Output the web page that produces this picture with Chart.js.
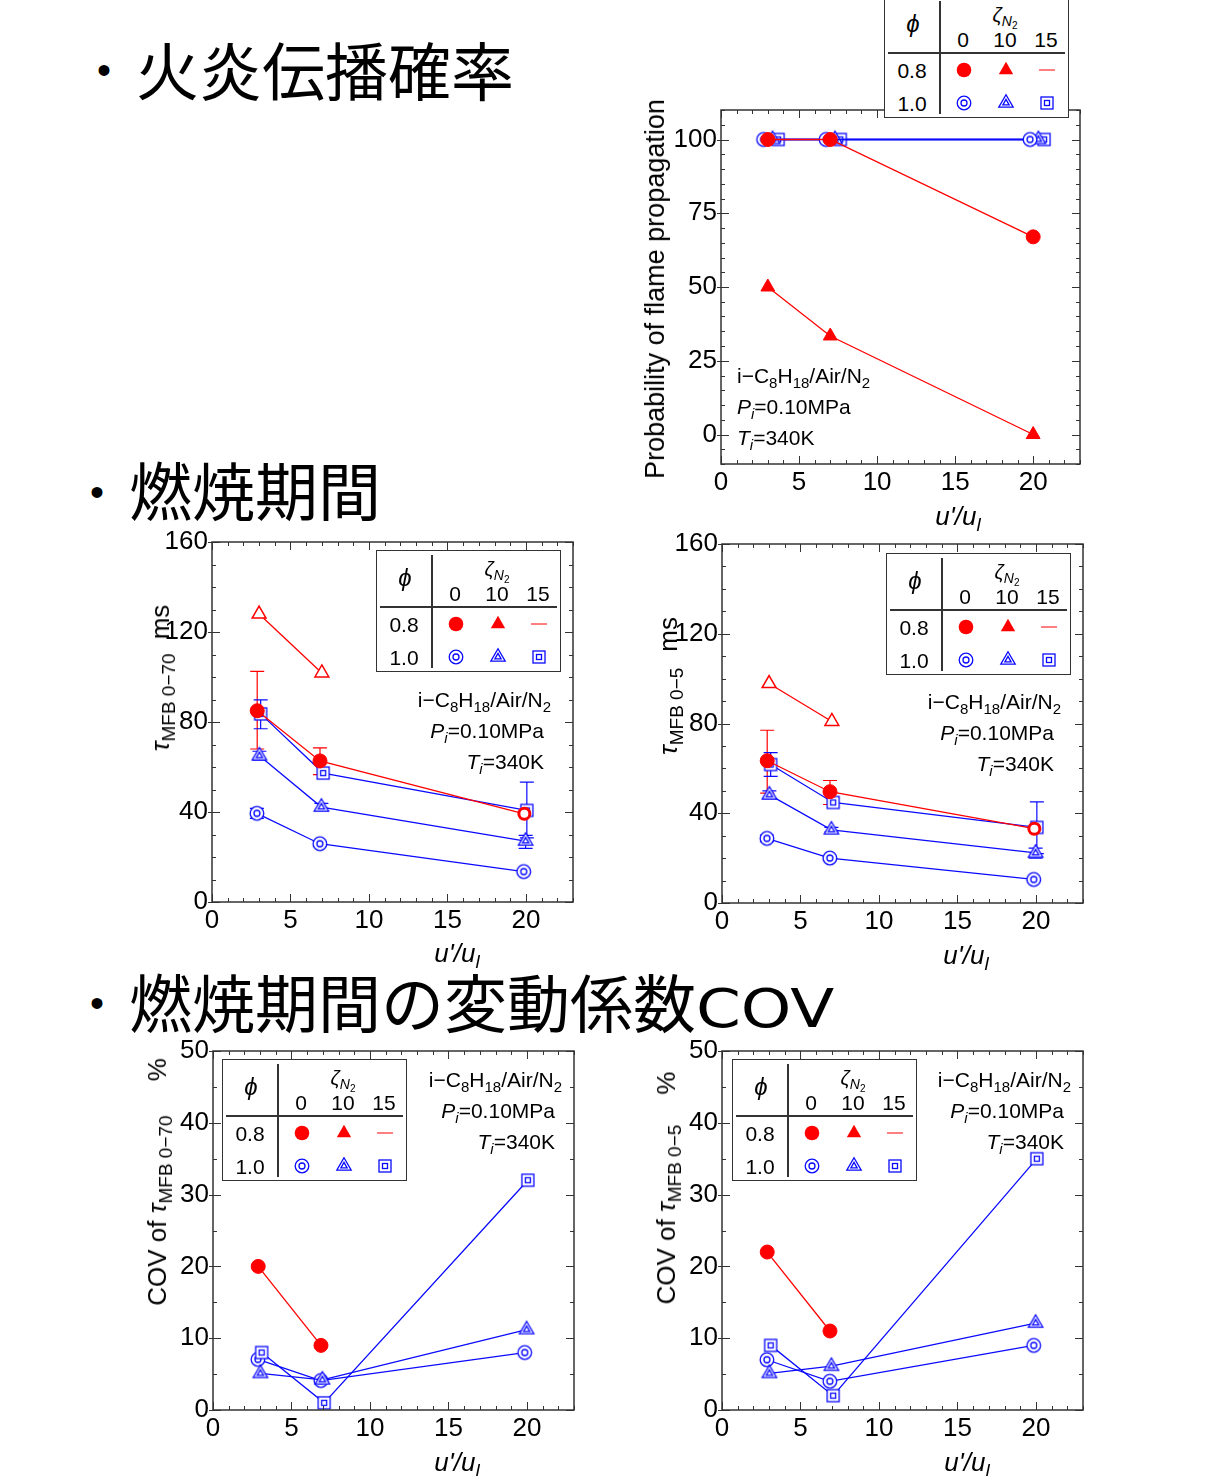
<!DOCTYPE html>
<html lang="ja">
<head>
<meta charset="utf-8">
<title>火炎伝播確率・燃焼期間・COV</title>
<script src="https://cdn.jsdelivr.net/npm/chart.js@4.4.1/dist/chart.umd.min.js"></script>
<style>
  html, body { margin: 0; padding: 0; background: #fff; }
  body { position: relative; width: 1209px; height: 1476px; overflow: hidden;
         font-family: "Liberation Sans", Arial, sans-serif; color: #000; }
  canvas.plot { position: absolute; }
  .head { position: absolute; font-family: "Noto Sans CJK JP", sans-serif; font-size: 63px;
          line-height: 63px; white-space: nowrap; }
  .head .lat { display: inline-block; font-family: "DejaVu Sans", sans-serif; font-size: 54px;
               transform: scaleX(1.19); transform-origin: left center; }
  .bullet { position: absolute; font-size: 40px; line-height: 40px; transform: translate(-50%, -50%); }
  .note { position: absolute; font-size: 21px; line-height: 31px; white-space: nowrap; }
  .note sub { font-size: 15px; vertical-align: -5px; line-height: 0; }
  .note.r { text-align: right; }
  .xt { position: absolute; font-size: 26px; font-style: italic; white-space: nowrap;
        transform: translate(-50%, -50%); }
  .xt sub { font-size: 19px; vertical-align: -6px; line-height: 0; }
  .yt { position: absolute; font-size: 26px; white-space: nowrap; line-height: 30px;
        transform: translate(-50%, -50%) rotate(-90deg); }
  .yt sub { font-size: 19px; vertical-align: -6px; line-height: 0; }
  .leg { position: absolute; width: 185px; height: 122px; border: 1.5px solid #333;
         background: #fff; box-sizing: border-box; z-index: 5; }
  .leg .vl { position: absolute; left: 54px; top: 4px; bottom: 3px; width: 1.5px; background: #333; }
  .leg .hl { position: absolute; left: 3px; right: 3px; top: 55px; height: 1.5px; background: #333; }
  .leg .c { position: absolute; transform: translate(-50%, -50%); font-size: 21px; line-height: 1;
            white-space: nowrap; }
  .leg .c sub { font-size: 14px; vertical-align: -4px; line-height: 0; }
  .leg .c sub sub { font-size: 10px; vertical-align: -3px; }
  .leg canvas { position: absolute; }
</style>
</head>
<body>

<div class="bullet" style="left:104px;top:70px">•</div>
<div class="head" style="left:136px;top:36px">火炎伝播確率</div>
<div class="bullet" style="left:97px;top:492px">•</div>
<div class="head" style="left:129px;top:456px">燃焼期間</div>
<div class="bullet" style="left:97px;top:1003px">•</div>
<div class="head" style="left:129px;top:968px">燃焼期間の変動係数<span class="lat">COV</span></div>

<canvas class="plot" id="probChart"></canvas>
<canvas class="plot" id="tau70Chart"></canvas>
<canvas class="plot" id="tau5Chart"></canvas>
<canvas class="plot" id="cov70Chart"></canvas>
<canvas class="plot" id="cov5Chart"></canvas>

<!-- axis titles -->
<div class="yt" style="left:655px;top:289px;font-size:27px">Probability of flame propagation</div>
<div class="xt" style="left:958px;top:516px">u'/u<sub>l</sub></div>

<div class="yt" style="left:160px;top:678px"><i>τ</i><sub>MFB 0−70</sub><span style="margin-left:14px">ms</span></div>
<div class="xt" style="left:457px;top:953px">u'/u<sub>l</sub></div>

<div class="yt" style="left:668px;top:686px"><i>τ</i><sub>MFB 0−5</sub><span style="margin-left:16px">ms</span></div>
<div class="xt" style="left:966px;top:955px">u'/u<sub>l</sub></div>

<div class="yt" style="left:157px;top:1182px">COV of <i>τ</i><sub>MFB 0−70</sub><span style="margin-left:34px">%</span></div>
<div class="xt" style="left:457px;top:1462px">u'/u<sub>l</sub></div>

<div class="yt" style="left:666px;top:1188px">COV of <i>τ</i><sub>MFB 0−5</sub><span style="margin-left:30px">%</span></div>
<div class="xt" style="left:967px;top:1462px">u'/u<sub>l</sub></div>

<!-- condition notes -->
<div class="note" style="left:737px;top:360px">
  <div>i−C<sub>8</sub>H<sub>18</sub>/Air/N<sub>2</sub></div>
  <div><i>P<sub>i</sub></i>=0.10MPa</div>
  <div><i>T<sub>i</sub></i>=340K</div>
</div>
<div class="note r" style="right:658px;top:684px">
  <div>i−C<sub>8</sub>H<sub>18</sub>/Air/N<sub>2</sub></div>
  <div style="padding-right:7px"><i>P<sub>i</sub></i>=0.10MPa</div>
  <div style="padding-right:7px"><i>T<sub>i</sub></i>=340K</div>
</div>
<div class="note r" style="right:148px;top:686px">
  <div>i−C<sub>8</sub>H<sub>18</sub>/Air/N<sub>2</sub></div>
  <div style="padding-right:7px"><i>P<sub>i</sub></i>=0.10MPa</div>
  <div style="padding-right:7px"><i>T<sub>i</sub></i>=340K</div>
</div>
<div class="note r" style="right:647px;top:1064px">
  <div>i−C<sub>8</sub>H<sub>18</sub>/Air/N<sub>2</sub></div>
  <div style="padding-right:7px"><i>P<sub>i</sub></i>=0.10MPa</div>
  <div style="padding-right:7px"><i>T<sub>i</sub></i>=340K</div>
</div>
<div class="note r" style="right:138px;top:1064px">
  <div>i−C<sub>8</sub>H<sub>18</sub>/Air/N<sub>2</sub></div>
  <div style="padding-right:7px"><i>P<sub>i</sub></i>=0.10MPa</div>
  <div style="padding-right:7px"><i>T<sub>i</sub></i>=340K</div>
</div>

<script>
// ---------------- data ----------------
const X_TICKS = [0, 5, 10, 15, 20];
const PHI_LEVELS = ['0.8', '1.0'];
const ZETA_LEVELS = ['0', '10', '15'];

// Probability of flame propagation (%)
const PROB_Y_TICKS = [0, 25, 50, 75, 100];
const PROB_RED_X = [3.0, 7.0, 20.0];
const PROB_RED_CIRCLE = [100, 100, 67];
const PROB_RED_TRI = [50, 33.4, 0];
const PROB_CIRC_X = [2.73, 6.73, 19.8];
const PROB_TRI_X = [3.3, 7.3, 20.33];
const PROB_SQ_X = [3.66, 7.64, 20.7];
const PROB_BLUE_CIRCLE = [100, 100, 100];
const PROB_BLUE_TRI = [100, 100, 100];
const PROB_BLUE_SQ = [100, 100, 100];

// x positions (u'/ul) for the duration / COV plots
const RED_X = [2.88, 6.88, 19.9];
const RED_TRI_X = [3.0, 7.0];
const CIRC_X = [2.86, 6.87, 19.86];
const TRI_X = [3.02, 6.97, 19.98];
const SQ_X = [3.1, 7.08, 20.06];

// tau MFB 0-70 (ms)
const TAU_Y_TICKS = [0, 40, 80, 120, 160];
const T70_RED = [85, 62.7, 39.2];
const T70_RED_LO = [68, 56.6, null];
const T70_RED_HI = [102.5, 68.5, null];
const T70_RED_TRI = [128, 101.8];
const T70_SQ = [83.6, 57.3, 40.7];
const T70_SQ_LO = [77, null, 28.5];
const T70_SQ_HI = [89.8, null, 53.3];
const T70_TRI = [65, 42.2, 27.1];
const T70_TRI_LO = [63, 40.6, 23.8];
const T70_TRI_HI = [67, 43.8, 29.6];
const T70_CIRC = [39.4, 25.9, 13.5];
const T70_CIRC_LO = [37.2, 24.9, 12.8];
const T70_CIRC_HI = [41.6, 26.9, 14.2];

// tau MFB 0-5 (ms)
const T5_RED = [63.4, 49.6, 33.1];
const T5_RED_LO = [49, 43.9, null];
const T5_RED_HI = [77, 54.6, null];
const T5_RED_TRI = [97.8, 80.9];
const T5_SQ = [61.7, 44.8, 33.7];
const T5_SQ_LO = [56.4, null, 22];
const T5_SQ_HI = [67, null, 45.1];
const T5_TRI = [48.2, 32.6, 22.3];
const T5_TRI_LO = [46.4, 31.6, 20];
const T5_TRI_HI = [50, 33.7, 24.5];
const T5_CIRC = [28.8, 20, 10.5];
const T5_CIRC_LO = [27.3, 19.3, 10];
const T5_CIRC_HI = [30.3, 20.7, 11];

// COV (%)
const COV_Y_TICKS = [0, 10, 20, 30, 40, 50];
const C70_RED = [20, 9];
const C70_SQ = [8, 1, 32];
const C70_TRI = [5.1, 4.2, 11.2];
const C70_CIRC = [7.05, 4.1, 8];
const C5_RED = [22, 11];
const C5_SQ = [9, 2, 35];
const C5_TRI = [5.1, 6.1, 12.1];
const C5_CIRC = [7, 4, 9];

// ---------------- styling ----------------
const RED = '#ff0000';
const BLUE = '#0a0aff';
const AXIS = '#333';
const FONT = '"Liberation Sans", Arial, sans-serif';
const LINE_W = 1.3;

function drawMarker(g, kind, cx, cy) {
  g.save();
  g.lineWidth = 1.3;
  g.strokeStyle = BLUE;
  g.fillStyle = '#fff';
  const tri = (r) => {
    g.beginPath();
    for (let k = 0; k < 3; k++) {
      const a = -Math.PI / 2 + k * 2 * Math.PI / 3;
      const px = cx + Math.cos(a) * r, py = cy + Math.sin(a) * r;
      k ? g.lineTo(px, py) : g.moveTo(px, py);
    }
    g.closePath();
  };
  if (kind === 'dcircle') {
    g.beginPath(); g.arc(cx, cy, 6.8, 0, Math.PI * 2); g.fill(); g.stroke();
    g.beginPath(); g.arc(cx, cy, 3, 0, Math.PI * 2); g.stroke();
  } else if (kind === 'dtri') {
    tri(8.3); g.fill(); g.stroke();
    tri(3.6); g.stroke();
  } else if (kind === 'dsquare') {
    g.fillRect(cx - 6, cy - 6, 12, 12); g.strokeRect(cx - 6, cy - 6, 12, 12);
    g.strokeRect(cx - 2.5, cy - 2.5, 5, 5);
  } else if (kind === 'fcircle') {
    g.fillStyle = RED; g.beginPath(); g.arc(cx, cy, 7.3, 0, Math.PI * 2); g.fill();
  } else if (kind === 'ftri') {
    g.fillStyle = RED; tri(8.3); g.fill();
  } else if (kind === 'dash') {
    g.strokeStyle = RED; g.lineWidth = 1; g.beginPath(); g.moveTo(cx - 8, cy); g.lineTo(cx + 8, cy); g.stroke();
  }
  g.restore();
}

function markerCanvas(kind) {
  const c = document.createElement('canvas');
  c.width = 22; c.height = 22;
  drawMarker(c.getContext('2d'), kind, 11, 11);
  return c;
}
const MK_CIRC = markerCanvas('dcircle');
const MK_TRI = markerCanvas('dtri');
const MK_SQ = markerCanvas('dsquare');

function pts(xs, ys) {
  return xs.map((x, i) => ({ x: x, y: ys[i] }));
}

function blueSeries(xs, ys, img, lo, hi) {
  return {
    data: pts(xs, ys), showLine: true, borderColor: BLUE, borderWidth: LINE_W,
    pointStyle: img, pointRadius: 7, errLo: lo, errHi: hi
  };
}
function redCircles(xs, ys, lo, hi, ringLast) {
  const n = ys.length;
  return {
    data: pts(xs, ys), showLine: true, borderColor: RED, borderWidth: LINE_W,
    pointStyle: 'circle',
    pointRadius: ys.map((v, i) => (ringLast && i === n - 1) ? 5.5 : 7),
    pointBackgroundColor: ys.map((v, i) => (ringLast && i === n - 1) ? '#fff' : RED),
    pointBorderColor: RED,
    pointBorderWidth: ys.map((v, i) => (ringLast && i === n - 1) ? 3 : 1),
    errLo: lo, errHi: hi
  };
}
function redTriangles(xs, ys, open) {
  return {
    data: pts(xs, ys), showLine: true, borderColor: RED, borderWidth: LINE_W,
    pointStyle: 'triangle', pointRadius: 8,
    pointBackgroundColor: open ? '#fff' : RED, pointBorderColor: RED,
    pointBorderWidth: open ? 1.5 : 1
  };
}

// frame with inward ticks on all four sides
const frameTicks = {
  id: 'frameTicks',
  afterDatasetsDraw(chart, args, opts) {
    const { ctx, chartArea: a, scales: { x, y } } = chart;
    ctx.save();
    ctx.strokeStyle = AXIS;
    ctx.lineWidth = 1;
    ctx.beginPath();
    const vx = (v, len) => {
      const px = Math.round(x.getPixelForValue(v)) + 0.5;
      ctx.moveTo(px, a.bottom); ctx.lineTo(px, a.bottom - len);
      ctx.moveTo(px, a.top); ctx.lineTo(px, a.top + len);
    };
    const vy = (v, len, out) => {
      const py = Math.round(y.getPixelForValue(v)) + 0.5;
      ctx.moveTo(a.left - out, py); ctx.lineTo(a.left + len, py);
      ctx.moveTo(a.right, py); ctx.lineTo(a.right - len, py);
    };
    for (let i = Math.ceil(x.min / opts.xMinor); i * opts.xMinor <= x.max; i++) vx(i * opts.xMinor, 4);
    X_TICKS.forEach(v => vx(v, 8));
    for (let i = Math.ceil(y.min / opts.yMinor); i * opts.yMinor <= y.max; i++) vy(i * opts.yMinor, 4, 0);
    opts.yTicks.forEach(v => vy(v, 8, 4));
    ctx.stroke();
    ctx.lineWidth = 1.5;
    ctx.strokeRect(a.left, a.top, a.right - a.left, a.bottom - a.top);
    ctx.restore();
  }
};

const errorBars = {
  id: 'errorBars',
  beforeDatasetsDraw(chart) {
    const { ctx, scales: { x, y } } = chart;
    chart.data.datasets.forEach(ds => {
      if (!ds.errLo) return;
      ctx.save();
      ctx.strokeStyle = ds.borderColor;
      ctx.lineWidth = 1.2;
      ds.data.forEach((p, i) => {
        const lo = ds.errLo[i], hi = ds.errHi[i];
        if (lo == null || hi == null) return;
        const px = x.getPixelForValue(p.x);
        const y1 = y.getPixelForValue(lo), y2 = y.getPixelForValue(hi);
        ctx.beginPath();
        ctx.moveTo(px, y1); ctx.lineTo(px, y2);
        ctx.moveTo(px - 7, y1); ctx.lineTo(px + 7, y1);
        ctx.moveTo(px - 7, y2); ctx.lineTo(px + 7, y2);
        ctx.stroke();
      });
      ctx.restore();
    });
  }
};

const PAD_L = 70, PAD_T = 20, PAD_R = 20, PAD_B = 45;

function makeChart(id, rect, yMin, yMax, yTicks, yMinor, datasets) {
  const cv = document.getElementById(id);
  const w = rect.r - rect.l + PAD_L + PAD_R;
  const h = rect.b - rect.t + PAD_T + PAD_B;
  cv.width = w; cv.height = h;
  cv.style.width = w + 'px'; cv.style.height = h + 'px';
  cv.style.left = (rect.l - PAD_L) + 'px';
  cv.style.top = (rect.t - PAD_T) + 'px';
  const tickFont = { family: FONT, size: 26 };
  return new Chart(cv, {
    type: 'scatter',
    data: { datasets: datasets },
    options: {
      responsive: false,
      animation: false,
      layout: { padding: { top: PAD_T, right: PAD_R, left: 0, bottom: 0 } },
      plugins: {
        legend: { display: false },
        tooltip: { enabled: false },
        frameTicks: { xMinor: 1, yMinor: yMinor, yTicks: yTicks }
      },
      scales: {
        x: {
          type: 'linear', min: 0, max: 23,
          afterBuildTicks: s => { s.ticks = X_TICKS.map(v => ({ value: v })); },
          afterFit: s => { s.height = PAD_B; },
          grid: { display: false, drawTicks: false },
          border: { display: false },
          ticks: { font: tickFont, color: '#000', padding: 3, maxRotation: 0, autoSkip: false }
        },
        y: {
          type: 'linear', min: yMin, max: yMax,
          afterBuildTicks: s => { s.ticks = yTicks.map(v => ({ value: v })); },
          afterFit: s => { s.width = PAD_L; },
          grid: { display: false, drawTicks: false },
          border: { display: false },
          ticks: { font: tickFont, color: '#000', padding: 4, autoSkip: false }
        }
      }
    },
    plugins: [errorBars, frameTicks]
  });
}

// ---------------- charts ----------------
makeChart('probChart', { l: 721, t: 110, r: 1080, b: 464 }, -10, 110, PROB_Y_TICKS, 5, [
  redCircles(PROB_RED_X, PROB_RED_CIRCLE, null, null, false),
  redTriangles(PROB_RED_X, PROB_RED_TRI, false),
  blueSeries(PROB_CIRC_X, PROB_BLUE_CIRCLE, MK_CIRC),
  blueSeries(PROB_TRI_X, PROB_BLUE_TRI, MK_TRI),
  blueSeries(PROB_SQ_X, PROB_BLUE_SQ, MK_SQ)
]);

makeChart('tau70Chart', { l: 212, t: 542, r: 573, b: 902 }, 0, 160, TAU_Y_TICKS, 10, [
  redCircles(RED_X, T70_RED, T70_RED_LO, T70_RED_HI, true),
  redTriangles(RED_TRI_X, T70_RED_TRI, true),
  blueSeries(SQ_X, T70_SQ, MK_SQ, T70_SQ_LO, T70_SQ_HI),
  blueSeries(TRI_X, T70_TRI, MK_TRI, T70_TRI_LO, T70_TRI_HI),
  blueSeries(CIRC_X, T70_CIRC, MK_CIRC, T70_CIRC_LO, T70_CIRC_HI)
]);

makeChart('tau5Chart', { l: 722, t: 544, r: 1083, b: 903 }, 0, 160, TAU_Y_TICKS, 10, [
  redCircles(RED_X, T5_RED, T5_RED_LO, T5_RED_HI, true),
  redTriangles(RED_TRI_X, T5_RED_TRI, true),
  blueSeries(SQ_X, T5_SQ, MK_SQ, T5_SQ_LO, T5_SQ_HI),
  blueSeries(TRI_X, T5_TRI, MK_TRI, T5_TRI_LO, T5_TRI_HI),
  blueSeries(CIRC_X, T5_CIRC, MK_CIRC, T5_CIRC_LO, T5_CIRC_HI)
]);

makeChart('cov70Chart', { l: 213, t: 1051, r: 574, b: 1410 }, 0, 50, COV_Y_TICKS, 5, [
  redCircles(RED_X.slice(0, 2), C70_RED, null, null, false),
  blueSeries(SQ_X, C70_SQ, MK_SQ),
  blueSeries(TRI_X, C70_TRI, MK_TRI),
  blueSeries(CIRC_X, C70_CIRC, MK_CIRC)
]);

makeChart('cov5Chart', { l: 722, t: 1051, r: 1083, b: 1410 }, 0, 50, COV_Y_TICKS, 5, [
  redCircles(RED_X.slice(0, 2), C5_RED, null, null, false),
  blueSeries(SQ_X, C5_SQ, MK_SQ),
  blueSeries(TRI_X, C5_TRI, MK_TRI),
  blueSeries(CIRC_X, C5_CIRC, MK_CIRC)
]);

// ---------------- legend tables ----------------
const LEGEND_KINDS = [['fcircle', 'ftri', 'dash'], ['dcircle', 'dtri', 'dsquare']];

function buildLegend(left, top) {
  const box = document.createElement('div');
  box.className = 'leg';
  box.style.left = left + 'px';
  box.style.top = top + 'px';
  let html = '<div class="vl"></div><div class="hl"></div>' +
    '<div class="c" style="left:28px;top:27px;font-size:24px"><i>ϕ</i></div>' +
    '<div class="c" style="left:120px;top:18px;font-size:20px"><i>ζ</i><sub><i>N</i><sub>2</sub></sub></div>';
  const colX = [78, 120, 161];
  const rowY = [73, 106];
  ZETA_LEVELS.forEach((z, j) => {
    html += `<div class="c" style="left:${colX[j]}px;top:42px">${z}</div>`;
  });
  PHI_LEVELS.forEach((p, i) => {
    html += `<div class="c" style="left:27px;top:${rowY[i]}px">${p}</div>`;
  });
  box.innerHTML = html;
  LEGEND_KINDS.forEach((row, i) => row.forEach((kind, j) => {
    const c = markerCanvas(kind);
    c.style.left = (colX[j] + 1 - 11) + 'px';
    c.style.top = (rowY[i] - 11) + 'px';
    box.appendChild(c);
  }));
  document.body.appendChild(box);
}

buildLegend(884, -4);
buildLegend(376, 550);
buildLegend(886, 553);
buildLegend(222, 1059);
buildLegend(732, 1059);
</script>
</body>
</html>
